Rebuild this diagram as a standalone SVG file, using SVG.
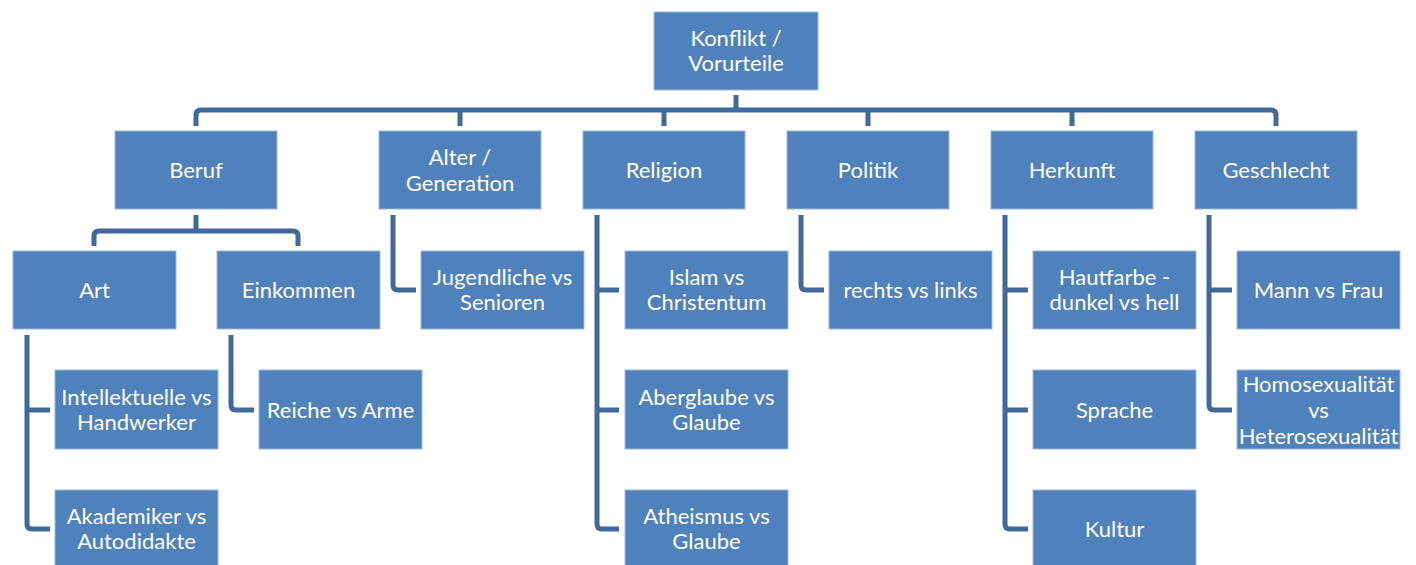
<svg xmlns="http://www.w3.org/2000/svg" width="1416" height="565" viewBox="0 0 1416 565">
<style>
.n rect{fill:#4F81BD;stroke:#9db8dc;stroke-width:1}
.n text{fill:#fff;font-family:Lato,"Open Sans",sans-serif;font-size:22px;text-anchor:middle;dominant-baseline:central}
#connectors path{fill:none;stroke:#41699B;stroke-width:5}
</style>
<rect width="1416" height="565" fill="#fff"/>
<g id="connectors">
<path d="M736,95 V110"/>
<path d="M196,126 V115 Q196,110 201,110 H1271 Q1276,110 1276,115 V126"/>
<path d="M460,110 V126 M664,110 V126 M868,110 V126 M1072,110 V126"/>
<path d="M196,215 V231"/>
<path d="M94,246 V236 Q94,231 99,231 H293 Q298,231 298,236 V246"/>
<path d="M27,335 V524 Q27,529 32,529 H50 M27,410 H50"/>
<path d="M231,335 V405 Q231,410 236,410 H254"/>
<path d="M393,215 V285 Q393,290 398,290 H416"/>
<path d="M597,215 V524 Q597,529 602,529 H619 M597,290 H619 M597,410 H619"/>
<path d="M801,215 V285 Q801,290 806,290 H824"/>
<path d="M1005,215 V524 Q1005,529 1010,529 H1028 M1005,290 H1028 M1005,410 H1028"/>
<path d="M1209,215 V405 Q1209,410 1214,410 H1232 M1209,290 H1232"/>
</g>
<g id="root" class="n"><rect x="654" y="12" width="164" height="78"/><text x="736" y="37">Konflikt /</text><text x="736" y="62">Vorurteile</text></g>
<g id="beruf" class="n"><rect x="115" y="131" width="162" height="78"/><text x="196" y="169">Beruf</text></g>
<g id="alter" class="n"><rect x="379" y="131" width="162" height="78"/><text x="460" y="156">Alter /</text><text x="460" y="182">Generation</text></g>
<g id="religion" class="n"><rect x="583" y="131" width="162" height="78"/><text x="664" y="169">Religion</text></g>
<g id="politik" class="n"><rect x="787" y="131" width="162" height="78"/><text x="868" y="169">Politik</text></g>
<g id="herkunft" class="n"><rect x="991" y="131" width="162" height="78"/><text x="1072" y="169">Herkunft</text></g>
<g id="geschlecht" class="n"><rect x="1195" y="131" width="162" height="78"/><text x="1276" y="169">Geschlecht</text></g>
<g id="art" class="n"><rect x="13" y="251" width="163" height="78"/><text x="94.5" y="289">Art</text></g>
<g id="einkommen" class="n"><rect x="217" y="251" width="163" height="78"/><text x="298.5" y="289">Einkommen</text></g>
<g id="intellektuelle" class="n"><rect x="55" y="370" width="163" height="79"/><text x="136.5" y="396">Intellektuelle vs</text><text x="136.5" y="421">Handwerker</text></g>
<g id="akademiker" class="n"><rect x="55" y="490" width="163" height="79"/><text x="136.5" y="515">Akademiker vs</text><text x="136.5" y="540">Autodidakte</text></g>
<g id="reiche" class="n"><rect x="259" y="370" width="163" height="79"/><text x="340.5" y="409">Reiche vs Arme</text></g>
<g id="jugendliche" class="n"><rect x="421" y="251" width="163" height="78"/><text x="502.5" y="276">Jugendliche vs</text><text x="502.5" y="301">Senioren</text></g>
<g id="islam" class="n"><rect x="625" y="251" width="163" height="78"/><text x="706.5" y="276">Islam vs</text><text x="706.5" y="301">Christentum</text></g>
<g id="aberglaube" class="n"><rect x="625" y="370" width="163" height="79"/><text x="706.5" y="396">Aberglaube vs</text><text x="706.5" y="421">Glaube</text></g>
<g id="atheismus" class="n"><rect x="625" y="490" width="163" height="79"/><text x="706.5" y="515">Atheismus vs</text><text x="706.5" y="540">Glaube</text></g>
<g id="rechts" class="n"><rect x="829" y="251" width="163" height="78"/><text x="910.5" y="289">rechts vs links</text></g>
<g id="hautfarbe" class="n"><rect x="1033" y="251" width="163" height="78"/><text x="1114.5" y="276">Hautfarbe -</text><text x="1114.5" y="301">dunkel vs hell</text></g>
<g id="sprache" class="n"><rect x="1033" y="370" width="163" height="79"/><text x="1114.5" y="409">Sprache</text></g>
<g id="kultur" class="n"><rect x="1033" y="490" width="163" height="79"/><text x="1114.5" y="528">Kultur</text></g>
<g id="mann" class="n"><rect x="1237" y="251" width="163" height="78"/><text x="1318.5" y="289">Mann vs Frau</text></g>
<g id="homo" class="n"><rect x="1237" y="370" width="163" height="79"/><text x="1318.5" y="383">Homosexualität</text><text x="1318.5" y="409">vs</text><text x="1318.5" y="435">Heterosexualität</text></g>
</svg>
